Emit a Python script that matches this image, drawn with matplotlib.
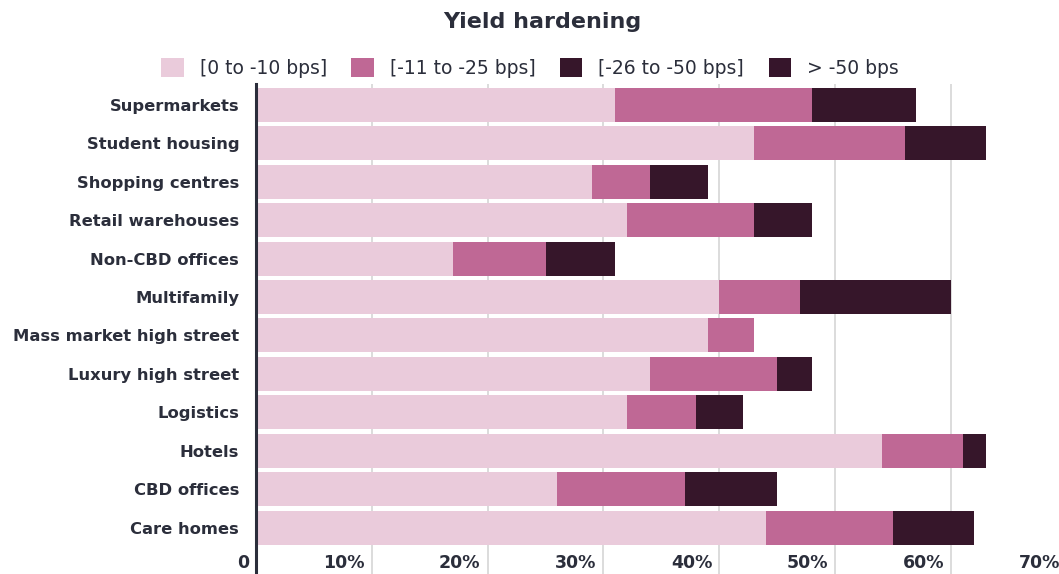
import matplotlib
matplotlib.use('Agg')
import matplotlib.pyplot as plt
import matplotlib.transforms as mtransforms
import numpy as np

# data
categories = ['Supermarkets', 'Student housing', 'Shopping centres', 'Retail warehouses',
              'Non-CBD offices', 'Multifamily', 'Mass market high street',
              'Luxury high street', 'Logistics', 'Hotels', 'CBD offices', 'Care homes']
band_0_10 = [31, 43, 29, 32, 17, 40, 39, 34, 32, 54, 26, 44]
band_11_25 = [17, 13, 5, 11, 8, 7, 4, 11, 6, 7, 11, 11]
band_26_50 = [9, 7, 5, 5, 6, 13, 0, 3, 4, 2, 8, 7]
band_over_50 = [0, 0, 0, 0, 0, 0, 0, 0, 0, 0, 0, 0]
series_names = ['[0 to -10 bps]', '[-11 to -25 bps]', '[-26 to -50 bps]', '> -50 bps']
x_ticks = [0, 10, 20, 30, 40, 50, 60, 70]
x_tick_labels = ['0', '10%', '20%', '30%', '40%', '50%', '60%', '70%']

colors = ['#eacbdb', '#bf6895', '#36162a', '#36152b']
text_col = '#2b2e3b'
plt.rcParams['font.family'] = ['DejaVu Sans']

W, H = 1059, 574
fig = plt.figure(figsize=(W / 100, H / 100), dpi=100)
ax = fig.add_axes([255.8 / W, 0, (1067 - 255.8) / W, (H - 84) / H])

y = np.arange(len(categories))
left = np.zeros(len(categories))
for vals, name, c in zip([band_0_10, band_11_25, band_26_50, band_over_50], series_names, colors):
    ax.barh(y, vals, left=left, height=0.885, color=c, label=name, zorder=3)
    left += np.array(vals)

ax.set_xlim(0, 70)
ax.set_ylim(12.21, -0.547)
ax.set_xticks(x_ticks)
ax.xaxis.grid(True, color='#d6d6d6', linewidth=1.2, zorder=0)
ax.tick_params(axis='x', length=0, labelbottom=False)
ax.set_yticks(y)
ax.set_yticklabels(categories, fontsize=11.8, fontweight='bold', color=text_col)
ax.tick_params(axis='y', length=0, pad=12)
for s in ['top', 'right', 'bottom']:
    ax.spines[s].set_visible(False)
ax.spines['left'].set_color(text_col)
ax.spines['left'].set_linewidth(2.2)
ax.spines['left'].set_zorder(5)

# x tick labels sit inside the plot, right-aligned just left of each gridline
off = mtransforms.offset_copy(ax.transData, fig, x=-7, y=0, units='dots')
for t, lab in zip(x_ticks, x_tick_labels):
    ax.text(t, 11.93, lab, transform=off, ha='right', va='center', fontsize=12.5,
            fontweight='bold', color=text_col, clip_on=False)

fig.text(542 / W, 1 - 22 / H, 'Yield hardening', ha='center', va='center',
         fontsize=16, fontweight='bold', color=text_col)

fig.legend(loc='center', bbox_to_anchor=(530 / W, 1 - 68 / H), ncol=4, frameon=False,
           prop={'size': 13.5}, handlelength=1.2, handleheight=1.2, handletextpad=0.85,
           columnspacing=1.3, labelcolor=text_col)

fig.savefig('out.png', dpi=100)
